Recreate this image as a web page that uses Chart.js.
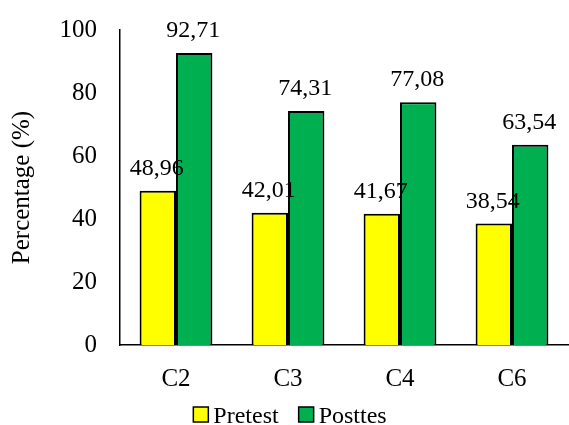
<!doctype html>
<html lang="en">
  <head>
    <meta charset="utf-8">
    <title>Pretest vs Posttes</title>
    <script src="https://cdn.jsdelivr.net/npm/chart.js@4"></script>
    <style>
      html, body { margin: 0; padding: 0; background: #fff; }
      #wrap { width: 569px; height: 425px; }
    </style>
  </head>
  <body>
<div id="wrap"><canvas id="barChart"></canvas></div>

    <script>
  // data
  var categories = ["C2", "C3", "C4", "C6"];
  var pretest = [48.96, 42.01, 41.67, 38.54];
  var posttes = [92.71, 74.31, 77.08, 63.54];
  var yTicks = [0, 20, 40, 60, 80, 100];

  var serif = "'Liberation Serif', 'Times New Roman', serif";
  Chart.defaults.font.family = serif;
  Chart.defaults.font.size = 25;
  Chart.defaults.color = "#000";

  // value labels above bars, comma as decimal sign
  var valueLabels = {
    id: "valueLabels",
    afterDatasetsDraw: function(chart) {
      var ctx = chart.ctx;
      ctx.save();
      ctx.font = "24px " + serif;
      ctx.fillStyle = "#000";
      ctx.textAlign = "center";
      ctx.textBaseline = "alphabetic";
      chart.data.datasets.forEach(function(ds, i) {
        chart.getDatasetMeta(i).data.forEach(function(bar, j) {
          var txt = ds.data[j].toFixed(2).replace(".", ",");
          ctx.fillText(txt, bar.x - 1, bar.y - 16);
        });
      });
      ctx.restore();
    }
  };

  // legend drawn by hand so the box sits close to its text
  var bottomLegend = {
    id: "bottomLegend",
    afterDatasetsDraw: function(chart) {
      var ctx = chart.ctx;
      var box = 15, gapText = 5, gapItem = 20;
      var items = chart.data.datasets;
      ctx.save();
      ctx.font = "24px " + serif;
      ctx.textAlign = "left";
      ctx.textBaseline = "alphabetic";
      var total = 0;
      items.forEach(function(ds, i) {
        total += box + gapText + ctx.measureText(ds.label).width;
        if (i < items.length - 1) total += gapItem;
      });
      var x = 290 - total / 2;
      var y = 407;
      items.forEach(function(ds) {
        ctx.fillStyle = ds.backgroundColor;
        ctx.fillRect(x, y, box, box);
        ctx.lineWidth = 1.5;
        ctx.strokeStyle = "#000";
        ctx.strokeRect(x, y, box, box);
        ctx.fillStyle = "#000";
        ctx.fillText(ds.label, x + box + gapText, y + 16);
        x += box + gapText + ctx.measureText(ds.label).width + gapItem;
      });
      ctx.restore();
    }
  };

  var ctxB = document.getElementById("barChart").getContext("2d");
  var myBarChart = new Chart(ctxB, {
    type: "bar",
    data: {
      labels: categories,
      datasets: [
        {
          label: "Pretest",
          data: pretest,
          backgroundColor: "#FFFF00",
          borderColor: "#000",
          borderWidth: 2,
        },
        {
          label: "Posttes",
          data: posttes,
          backgroundColor: "#00B050",
          borderColor: "#000",
          borderWidth: 2,
        },
      ],
    },
    options: {
      responsive: true,
      maintainAspectRatio: false,
      animation: false,
      layout: { padding: { top: 3, right: 1, left: 7, bottom: 20 } },
      datasets: { bar: { categoryPercentage: 0.65, barPercentage: 1 } },
      scales: {
        x: {
          grid: { display: false },
          border: { display: true, color: "#000", width: 1.5 },
          ticks: { padding: 11 },
        },
        y: {
          min: 0,
          max: 100,
          afterBuildTicks: function(axis) {
            axis.ticks = yTicks.map(function(v) { return { value: v }; });
          },
          grid: { display: false },
          border: { display: true, color: "#000", width: 1.5 },
          ticks: { padding: 15 },
          title: { display: true, text: "Percentage (%)", font: { size: 25 }, padding: { top: 0, bottom: 8 } },
          afterFit: function(axis) { axis.width = 113; },
        },
      },
      plugins: {
        legend: { display: false },
        tooltip: { enabled: false },
      },
    },
    plugins: [valueLabels, bottomLegend],
  });
    </script>
  </body>
</html>
